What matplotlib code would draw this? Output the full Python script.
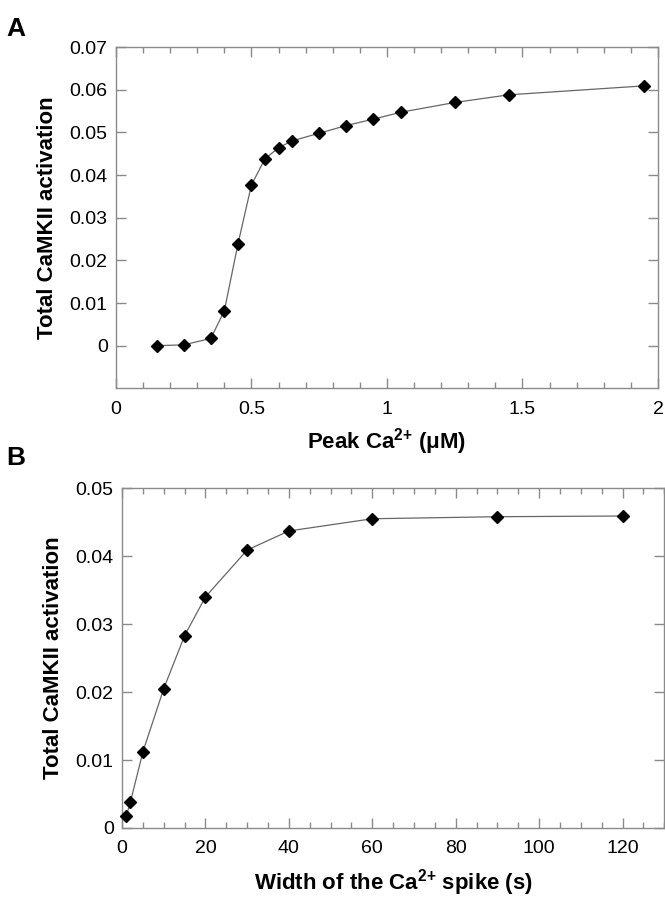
import matplotlib
matplotlib.use('Agg')
import matplotlib.pyplot as plt
from matplotlib.ticker import MultipleLocator, FormatStrFormatter, FuncFormatter

plt.rcParams['font.family'] = ['Liberation Sans', 'DejaVu Sans']
plt.rcParams['mathtext.fontset'] = 'custom'
plt.rcParams['mathtext.rm'] = 'Liberation Sans:bold'
plt.rcParams['mathtext.bf'] = 'Liberation Sans:bold'
plt.rcParams['mathtext.default'] = 'bf'

# Panel A: peak Ca2+ vs total CaMKII activation
peak_ca = [0.15, 0.25, 0.35, 0.40, 0.45, 0.50, 0.55, 0.60, 0.65, 0.75, 0.85, 0.95, 1.05, 1.25, 1.45, 1.95]
act_a = [0.0, 0.0002, 0.0017, 0.0082, 0.0238, 0.0377, 0.0438, 0.0464, 0.0480, 0.0498,
         0.0516, 0.0531, 0.0547, 0.0570, 0.0588, 0.0609]

# Panel B: spike width vs total CaMKII activation
width_s = [1, 2, 5, 10, 15, 20, 30, 40, 60, 90, 120]
act_b = [0.0017, 0.0038, 0.0112, 0.0205, 0.0283, 0.0340, 0.0409, 0.0437, 0.0455, 0.0458, 0.0459]

fig = plt.figure(figsize=(6.65, 8.99), dpi=100)
axA = fig.add_axes([0.1744, 0.568, 0.815, 0.3797])
axB = fig.add_axes([0.1835, 0.079, 0.8155, 0.378])

def fmt(v, pos):
    if abs(v) < 1e-9:
        return '0'
    return ('%.2f' % v) if abs(v) < 0.1 else ('%g' % v)

def style(ax):
    for s in ax.spines.values():
        s.set_color('#8a8a8a')
        s.set_linewidth(1.0)
    ax.tick_params(which='both', direction='in', colors='#8a8a8a', labelcolor='black',
                   labelsize=14, top=True, right=True)
    ax.tick_params(which='major', length=7, width=1)
    ax.tick_params(which='minor', length=4, width=1)
    ax.tick_params(axis='x', pad=9)
    ax.tick_params(axis='y', pad=6)

for ax, x, y in [(axA, peak_ca, act_a), (axB, width_s, act_b)]:
    ax.plot(x, y, color='#666666', lw=0.9, marker='D', ms=6.5,
            mfc='black', mec='black', clip_on=False, zorder=3)
    style(ax)

axA.set_xlim(0, 2)
axA.set_ylim(-0.01, 0.07)
axA.xaxis.set_major_locator(MultipleLocator(0.5))
axA.xaxis.set_minor_locator(MultipleLocator(0.1))
axA.set_yticks([0, 0.01, 0.02, 0.03, 0.04, 0.05, 0.06, 0.07])
axA.xaxis.set_major_formatter(FormatStrFormatter('%g'))
axA.yaxis.set_major_formatter(FuncFormatter(fmt))
axA.set_xlabel('Peak Ca$^{2{+}}$ (μM)', fontsize=16, fontweight='bold', labelpad=6)
axA.set_ylabel('Total CaMKII activation', fontsize=16, fontweight='bold', labelpad=8)

axB.set_xlim(0, 130)
axB.set_ylim(0, 0.05)
axB.xaxis.set_major_locator(MultipleLocator(20))
axB.xaxis.set_minor_locator(MultipleLocator(5))
axB.set_yticks([0, 0.01, 0.02, 0.03, 0.04, 0.05])
axB.xaxis.set_major_formatter(FormatStrFormatter('%g'))
axB.yaxis.set_major_formatter(FuncFormatter(fmt))
axB.set_xlabel('Width of the Ca$^{2{+}}$ spike (s)', fontsize=16, fontweight='bold', labelpad=7)
axB.set_ylabel('Total CaMKII activation', fontsize=16, fontweight='bold', labelpad=8)

fig.text(0.010, 0.968, 'A', fontsize=19, fontweight='bold', va='center')
fig.text(0.010, 0.491, 'B', fontsize=19, fontweight='bold', va='center')

fig.savefig('out.png', dpi=100)
plt.close(fig)
